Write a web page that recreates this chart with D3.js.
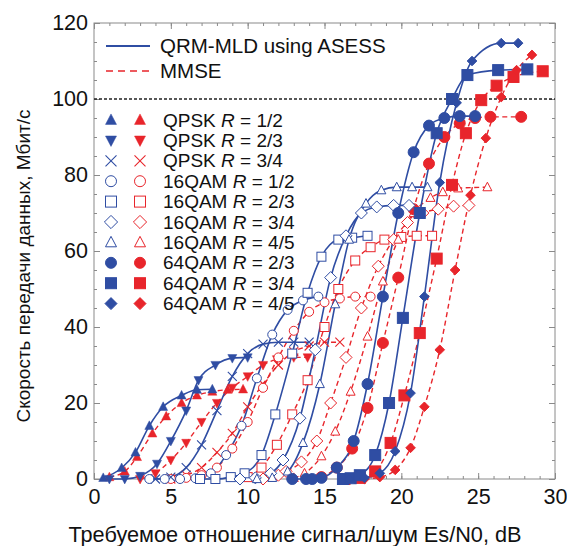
<!DOCTYPE html>
<html><head><meta charset="utf-8">
<script src="https://cdn.jsdelivr.net/npm/d3@7/dist/d3.min.js"></script>
<style>body{margin:0;background:#fff}text{font-family:"Liberation Sans",Arial,sans-serif}</style>
</head><body><svg id="c" width="567" height="546"></svg>
<script>
// ---- data ----
const modNames = ["QPSK","QPSK","QPSK","16QAM","16QAM","16QAM","16QAM","64QAM","64QAM","64QAM"];
const rates = ["1/2","2/3","3/4","1/2","2/3","3/4","4/5","2/3","3/4","4/5"];
const xTicks = [0,5,10,15,20,25,30];
const yTicks = [0,20,40,60,80,100,120];
const legendLines = ["QRM-MLD using ASESS","MMSE"];
const targetRate = 100;

// QRM-MLD using ASESS (blue) — [SNR dB, Mbit/s]
const qrm_qpsk12 = [[0.6,0.3],[1.8,2.9],[2.7,7],[3.6,14],[4.5,19],[5.7,22],[6.7,23.5],[7.7,23.6]];
const qrm_qpsk23 = [[1,0],[2,0],[3,0.8],[4.1,4],[5,10],[6,18],[6.8,26],[7.9,30],[9,31.8],[10,32]];
const qrm_qpsk34 = [[4,0],[5,0.5],[6,3],[7,9],[8,18],[9,27],[10,33],[11,35.5],[12,36],[13,36],[14,36]];
const qrm_16q12 = [[3.6,0],[4.6,0],[5.6,0],[6.6,0.2],[7.6,1.5],[8.6,6.3],[9.6,14],[10.6,26.5],[11.6,38],[12.6,44.5],[13.6,47],[14.6,48]];
const qrm_16q23 = [[6.9,0],[7.9,0],[8.9,0.5],[9.8,1.5],[10.9,6.3],[11.8,17],[12.9,33],[13.9,49],[14.8,58.5],[15.9,63],[16.8,63.5],[17.8,64]];
const qrm_16q34 = [[9.5,0],[10.5,0.3],[11.5,1.5],[12.3,5],[13.4,16],[14.4,34],[15.4,53],[16.4,64],[17.4,70],[18.4,71.6],[19.5,72],[20.5,72]];
const qrm_16q45 = [[10.6,0],[11.6,0.3],[12.6,2],[13.6,9.5],[14.7,25],[15.7,46],[16.6,63],[17.7,72.5],[18.7,76],[19.7,76.8],[20.7,76.8],[21.7,76.8]];
const qrm_64q23 = [[12.9,0],[13.8,0],[14.2,0],[14.8,0.3],[15.8,3],[16.9,10],[17.8,25],[18.8,48],[19.8,70],[20.8,86],[21.8,93],[22.8,95],[23.8,95.5],[24.8,95.5]];
const qrm_64q34 = [[16.2,0],[16.7,0.2],[17.3,1],[18.3,6.3],[19.2,20],[20.1,42.4],[21.2,70],[22.3,91],[23.3,100],[24.3,106.3],[26.3,107.6],[28.2,107.8]];
const qrm_64q45 = [[16.6,0],[17.6,0.3],[18.6,1.5],[19.6,7.3],[20.6,22.6],[21.5,48],[22.5,78],[23.6,99],[24.6,110],[26.5,114.7],[27.6,114.7]];

// MMSE (red)
const mmse_qpsk12 = [[1,0.5],[2,2],[2.8,5.8],[3.8,12],[4.7,16.5],[5.7,20],[6.7,22],[7.7,23],[8.7,23.5],[9.7,23.6]];
const mmse_qpsk23 = [[3,0],[4,1.5],[5,5],[6,9.5],[7,15],[8,20],[9,24],[10,27],[11,30],[11.9,31.5],[13,32],[13.9,32]];
const mmse_qpsk34 = [[5,0],[6,1],[7,3],[8,7],[9,12],[10,19],[11,25],[12,30],[13,33.5],[14,35],[15,36],[16,36]];
const mmse_16q12 = [[5,0],[6,0.3],[7,1],[8,3],[9,8],[10,15],[11,24],[12,32],[13,39],[14,44],[15,46.5],[16,47.5],[17,48],[18,48]];
const mmse_16q23 = [[10,0.5],[10.9,3],[11.9,9],[12.9,17],[13.9,26],[15,40],[15.9,50],[17,57.5],[18,61],[18.9,63],[20,63.7],[21,64],[22,64]];
const mmse_16q34 = [[11,0],[12,1],[12.5,2],[13.5,4.5],[14.5,10],[15.4,20],[16.4,32],[17.4,45],[18.5,56],[19.5,63],[20.4,67.5],[21.4,70],[22.4,71],[23.4,71.8],[24.4,72]];
const mmse_16q45 = [[13,0.3],[13.7,1.5],[14.8,6],[15.7,12.5],[16.7,23],[17.8,37.5],[18.8,52],[19.8,63],[20.8,70],[21.9,74],[22.7,75.5],[23.7,76.5],[25.6,76.8]];
const mmse_64q23 = [[14.8,0.5],[15.8,3],[16.8,8],[17.8,18.7],[18.8,35.8],[19.8,53],[20.8,71],[21.8,83],[22.8,90],[23.8,93.6],[24.8,95],[25.8,95.3],[27.8,95.3]];
const mmse_64q34 = [[16.3,0],[17.3,0.3],[18.3,2],[19.3,9.5],[20.2,22],[21.2,38.4],[22.3,58],[23.3,77.4],[24.2,91],[25.2,99.7],[26.2,103.5],[27.3,105.8],[29.2,107.3]];
const mmse_64q45 = [[17.6,0],[18.6,0.5],[19.6,2.4],[20.6,8.2],[21.5,19],[22.5,34],[23.5,55],[24.5,74.7],[25.5,89.7],[26.5,100.5],[27.5,107.6],[28.5,111.6]];

const qrmSeries = [qrm_qpsk12,qrm_qpsk23,qrm_qpsk34,qrm_16q12,qrm_16q23,qrm_16q34,qrm_16q45,qrm_64q23,qrm_64q34,qrm_64q45];
const mmseSeries = [mmse_qpsk12,mmse_qpsk23,mmse_qpsk34,mmse_16q12,mmse_16q23,mmse_16q34,mmse_16q45,mmse_64q23,mmse_64q34,mmse_64q45];

// ---- styles ----
const BLUE = "#2f4da3", RED = "#e8252b";
const markerKinds = ["triUp","triDown","cross","circleO","squareO","diamondO","triO","circleF","squareF","diamondF"];
const plotSize = [9,9,9,9,9,10,9,11,11,8];

const svg = d3.select("#c");
const L = 94, R = 555, T = 23, B = 479;
const x = d3.scaleLinear().domain([0,30]).range([L,R]);
const y = d3.scaleLinear().domain([0,120]).range([B,T]);

// frame
svg.append("rect").attr("x",L).attr("y",T).attr("width",R-L).attr("height",B-T)
  .attr("fill","none").attr("stroke","#8a8a8a").attr("stroke-width",1);

function ticks(g){ g.select(".domain").remove(); g.selectAll("line").attr("stroke","#8a8a8a"); }
const xMinor = d3.range(0,31,1), yMinor = d3.range(0,121,5);
svg.append("g").attr("transform",`translate(0,${B})`).call(d3.axisBottom(x).tickValues(xMinor).tickSize(-3).tickFormat("")).call(ticks);
svg.append("g").attr("transform",`translate(0,${T})`).call(d3.axisTop(x).tickValues(xMinor).tickSize(-3).tickFormat("")).call(ticks);
svg.append("g").attr("transform",`translate(${L},0)`).call(d3.axisLeft(y).tickValues(yMinor).tickSize(-3).tickFormat("")).call(ticks);
svg.append("g").attr("transform",`translate(${R},0)`).call(d3.axisRight(y).tickValues(yMinor).tickSize(-3).tickFormat("")).call(ticks);
const xa = svg.append("g").attr("transform",`translate(0,${B})`).call(d3.axisBottom(x).tickValues(xTicks).tickSize(-6).tickPadding(10)).call(ticks);
xa.selectAll("text").attr("font-size",21.5).attr("fill","#111").attr("dy","0.71em");
svg.append("g").attr("transform",`translate(0,${T})`).call(d3.axisTop(x).tickValues(xTicks).tickSize(-6).tickFormat("")).call(ticks);
const ya = svg.append("g").attr("transform",`translate(${L},0)`).call(d3.axisLeft(y).tickValues(yTicks).tickSize(-6).tickPadding(6)).call(ticks);
ya.selectAll("text").attr("font-size",21.5).attr("fill","#111");
svg.append("g").attr("transform",`translate(${R},0)`).call(d3.axisRight(y).tickValues(yTicks).tickSize(-6).tickFormat("")).call(ticks);

// titles
svg.append("text").attr("x",295).attr("y",542).attr("text-anchor","middle").attr("font-size",21.7).attr("fill","#111")
  .text("Требуемое отношение сигнал/шум Es/N0, dB");
svg.append("text").attr("transform",`translate(30,266) rotate(-90)`).attr("text-anchor","middle").attr("font-size",19).attr("fill","#111")
  .text("Скорость передачи данных, Мбит/с");

// target line
svg.append("line").attr("x1",L).attr("x2",R).attr("y1",y(targetRate)).attr("y2",y(targetRate))
  .attr("stroke","#222").attr("stroke-width",1.3).attr("stroke-dasharray","3,2");

// marker drawing
function marker(g, kind, cx, cy, s, color){
  const h = s/2;
  if(kind==="triUp"||kind==="triO"){
    const p = `M${cx},${cy-h*1.1}L${cx+h},${cy+h*0.8}L${cx-h},${cy+h*0.8}Z`;
    g.append("path").attr("d",p).attr("fill",kind==="triUp"?color:"#fff").attr("stroke",color).attr("stroke-width",kind==="triUp"?0.5:1);
  } else if(kind==="triDown"){
    const p = `M${cx},${cy+h*1.1}L${cx+h},${cy-h*0.8}L${cx-h},${cy-h*0.8}Z`;
    g.append("path").attr("d",p).attr("fill",color).attr("stroke",color).attr("stroke-width",0.5);
  } else if(kind==="cross"){
    g.append("path").attr("d",`M${cx-h},${cy-h}L${cx+h},${cy+h}M${cx-h},${cy+h}L${cx+h},${cy-h}`).attr("stroke",color).attr("stroke-width",1.1).attr("fill","none");
  } else if(kind==="circleO"||kind==="circleF"){
    g.append("circle").attr("cx",cx).attr("cy",cy).attr("r",h).attr("fill",kind==="circleF"?color:"#fff").attr("stroke",color).attr("stroke-width",1);
  } else if(kind==="squareO"||kind==="squareF"){
    g.append("rect").attr("x",cx-h).attr("y",cy-h).attr("width",s).attr("height",s).attr("fill",kind==="squareF"?color:"#fff").attr("stroke",color).attr("stroke-width",1);
  } else {
    const d = h*1.2;
    g.append("path").attr("d",`M${cx},${cy-d}L${cx+d},${cy}L${cx},${cy+d}L${cx-d},${cy}Z`).attr("fill",kind==="diamondF"?color:"#fff").attr("stroke",color).attr("stroke-width",1);
  }
}

const line = d3.line().x(d=>x(d[0])).y(d=>y(d[1])).curve(d3.curveMonotoneX);
const plot = svg.append("g");
mmseSeries.forEach(s=>{
  plot.append("path").attr("d",line(s)).attr("fill","none").attr("stroke",RED).attr("stroke-width",1.4).attr("stroke-dasharray","5,3.5");
});
qrmSeries.forEach(s=>{
  plot.append("path").attr("d",line(s)).attr("fill","none").attr("stroke",BLUE).attr("stroke-width",1.6);
});
const mg = svg.append("g");
mmseSeries.forEach((s,i)=>s.forEach(d=>marker(mg,markerKinds[i],x(d[0]),y(d[1]),plotSize[i],RED)));
qrmSeries.forEach((s,i)=>s.forEach(d=>marker(mg,markerKinds[i],x(d[0]),y(d[1]),plotSize[i],BLUE)));

// legend
const lg = svg.append("g");
lg.append("line").attr("x1",106).attr("x2",150).attr("y1",46).attr("y2",46).attr("stroke",BLUE).attr("stroke-width",1.8);
lg.append("line").attr("x1",106).attr("x2",150).attr("y1",71).attr("y2",71).attr("stroke",RED).attr("stroke-width",1.6).attr("stroke-dasharray","7,5");
lg.append("text").attr("x",160).attr("y",53).attr("font-size",20.5).attr("fill","#111").text(legendLines[0]);
lg.append("text").attr("x",160).attr("y",78).attr("font-size",20.5).attr("fill","#111").text(legendLines[1]);
modNames.forEach((m,i)=>{
  const yy = 120 + i*20.4;
  const s = i===9 ? 10 : 11;
  marker(lg,markerKinds[i],111,yy,s,BLUE);
  marker(lg,markerKinds[i],140,yy,s,RED);
  const t = lg.append("text").attr("x",163).attr("y",yy+6.5).attr("font-size",19).attr("fill","#111");
  t.append("tspan").text(m+" ");
  t.append("tspan").attr("font-style","italic").text("R");
  t.append("tspan").text(" = "+rates[i]);
});
</script></body></html>
